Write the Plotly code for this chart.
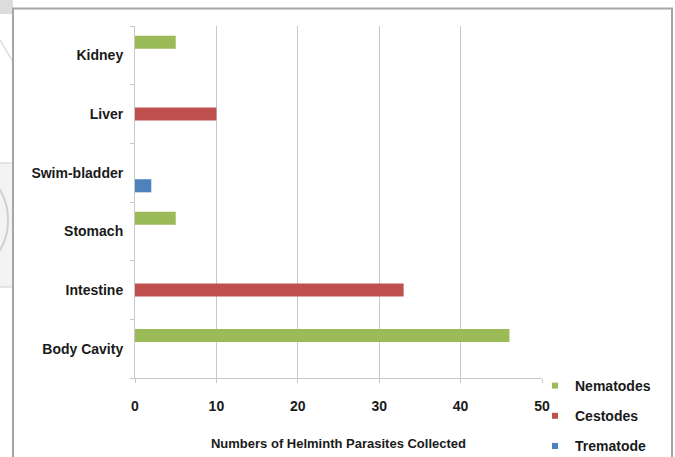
import plotly.graph_objects as go

# Organs where parasites were found (bottom to top on the chart)
organs = ["Body Cavity", "Intestine", "Stomach", "Swim-bladder", "Liver", "Kidney"]

nematodes = [46, 0, 5, 0, 0, 5]
cestodes = [0, 33, 0, 0, 10, 0]
trematode = [0, 0, 0, 2, 0, 0]

x_ticks = [0, 10, 20, 30, 40, 50]

W, H = 675, 457
L, R, T, B = 135, 133, 26, 79
PW, PH = W - L - R, H - T - B


def px(x):
    return (x - L) / PW


def py(y):
    return (H - B - y) / PH


fig = go.Figure()
# Trematode first so it sits lowest within each group; legend rank puts Nematodes on top
series = [
    ("Trematode", trematode, "#4F81BD", 3),
    ("Cestodes", cestodes, "#C0504D", 2),
    ("Nematodes", nematodes, "#9BBB59", 1),
]
for name, vals, col, rank in series:
    fig.add_trace(go.Bar(
        y=organs, x=vals, name=name, orientation="h",
        marker=dict(color=col, line=dict(width=0)),
        legendgroup=name, showlegend=False,
    ))
    # small square key for the legend
    fig.add_trace(go.Scatter(
        x=[None], y=[None], mode="markers", name=name,
        marker=dict(symbol="square", size=6, color=col),
        legendgroup=name, legendrank=rank, showlegend=True,
    ))

shapes = [
    # left-edge background remnants
    dict(type="rect", xref="paper", yref="paper", x0=px(0), x1=px(13), y0=py(0), y1=py(14),
         fillcolor="#dcdcdc", line=dict(width=0), layer="below"),
    dict(type="rect", xref="paper", yref="paper", x0=px(0), x1=px(13), y0=py(163), y1=py(287),
         fillcolor="#f3f3f3", line=dict(width=0), layer="below"),
    dict(type="line", xref="paper", yref="paper", x0=px(0), x1=px(13), y0=py(163), y1=py(163),
         line=dict(color="#cfcfcf", width=1)),
    dict(type="line", xref="paper", yref="paper", x0=px(0), x1=px(13), y0=py(287), y1=py(287),
         line=dict(color="#cfcfcf", width=1)),
    dict(type="circle", xref="paper", yref="paper", x0=px(-55), x1=px(8), y0=py(175), y1=py(265),
         line=dict(color="#d0d0d0", width=2), layer="below"),
    dict(type="line", xref="paper", yref="paper", x0=px(0), x1=px(13), y0=py(40), y1=py(62),
         line=dict(color="#e0e0e0", width=1.5)),
    # outer chart border
    dict(type="rect", xref="paper", yref="paper", x0=px(13), x1=px(672), y0=py(8.5), y1=py(470),
         line=dict(color="#a6a6a6", width=2), fillcolor="rgba(0,0,0,0)"),
]

fig.update_layout(
    width=W, height=H,
    margin=dict(l=L, r=R, t=T, b=B, autoexpand=False),
    paper_bgcolor="white", plot_bgcolor="white",
    barmode="group", bargap=0.33, bargroupgap=0,
    font=dict(family="Liberation Sans, Arial, sans-serif", size=14, color="#1a1a1a", weight="bold"),
    xaxis=dict(
        range=[0, 50], tickvals=x_ticks, showgrid=True, gridcolor="#c8c8c8", gridwidth=1,
        showline=True, linecolor="#c8c8c8", linewidth=1,
        ticks="outside", ticklen=4, tickcolor="#c8c8c8", ticklabelstandoff=11,
        zeroline=False, automargin=False,
        title=dict(text="Numbers of Helminth Parasites Collected", standoff=26,
                   font=dict(size=13, weight="bold")),
    ),
    yaxis=dict(
        categoryorder="array", categoryarray=organs,
        showline=True, linecolor="#c8c8c8", linewidth=1,
        ticks="outside", ticklen=4, tickcolor="#c8c8c8", tickson="boundaries",
        ticklabelstandoff=8, showgrid=False, automargin=False,
    ),
    legend=dict(
        x=px(535), y=py(370), xanchor="left", yanchor="top",
        traceorder="grouped", tracegroupgap=9,
        font=dict(size=14, weight="bold"), itemwidth=30,
        bgcolor="rgba(0,0,0,0)",
    ),
    shapes=shapes,
)

fig.write_html("out.html")
